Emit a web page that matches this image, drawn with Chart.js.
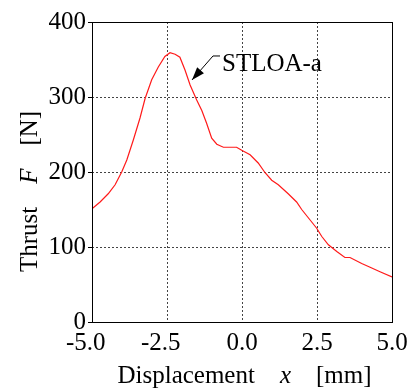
<!DOCTYPE html>
<html>
<head>
<meta charset="utf-8">
<script src="https://cdn.jsdelivr.net/npm/chart.js@4/dist/chart.umd.min.js"></script>
<style>
html,body{margin:0;padding:0;background:#fff;}
#wrap{width:414px;height:390px;}
</style>
</head>
<body>
<div id="wrap"><canvas id="c" width="414" height="390"></canvas></div>
<script>
// ---- data ----
const displacement = [-5.0,-4.73,-4.46,-4.23,-4.01,-3.84,-3.62,-3.40,-3.23,-3.01,-2.79,-2.57,-2.40,-2.23,-2.07,-1.90,-1.73,-1.51,-1.34,-1.18,-1.01,-0.84,-0.62,-0.40,-0.18,-0.01,0.27,0.54,0.77,0.99,1.21,1.54,1.82,1.99,2.27,2.49,2.66,2.88,3.16,3.43,3.60,3.99,4.27,4.60,5.0];
const thrust = [151,160,171,183,200,216,243,272,298,323,340,354,359,357,353,336,316,296,282,265,245,237,233,233,233,229,223,212,199,189,183,171,160,150,136,125,114,103,94,86,86,78,73,67,60];
const xTicks = [-5.0,-2.5,0.0,2.5,5.0];
const yTicks = [0,100,200,300,400];
const seriesLabel = "STLOA-a";
const xTitle = ["Displacement","x","[mm]"];
const yTitle = ["Thrust","F","[N]"];
// annotation anchors (data coordinates)
const labelAnchor = {x:-0.667, y:334.7};
const elbowA = {x:-0.733, y:354.7};
const elbowB = {x:-0.967, y:354.7};
const arrowTip = {x:-1.667, y:322.7};

const SERIF = '"Liberation Serif","Times New Roman",serif';
const FS = 25;

const overlay = {
  id:'overlay',
  afterDraw(chart){
    const ctx = chart.ctx, a = chart.chartArea;
    const xs = chart.scales.x, ys = chart.scales.y;
    ctx.save();
    // frame
    ctx.strokeStyle = '#000'; ctx.lineWidth = 1;
    ctx.strokeRect(Math.round(a.left)+0.5, Math.round(a.top)+0.5, Math.round(a.right-a.left), Math.round(a.bottom-a.top));
    ctx.fillStyle = '#000';
    ctx.textBaseline = 'alphabetic';
    ctx.textAlign = 'left';
    // x title
    const norm = FS+'px '+SERIF, ital = 'italic '+FS+'px '+SERIF;
    const gapX = 25;
    ctx.font = norm; const w1 = ctx.measureText(xTitle[0]).width, w3 = ctx.measureText(xTitle[2]).width;
    ctx.font = ital; const w2 = ctx.measureText(xTitle[1]).width;
    const tot = w1+w2+w3+2*gapX;
    let sx = 244.5 - tot/2, by = 383;
    ctx.font = norm; ctx.fillText(xTitle[0], sx, by);
    ctx.font = ital; ctx.fillText(xTitle[1], sx+w1+gapX, by);
    ctx.font = norm; ctx.fillText(xTitle[2], sx+w1+gapX+w2+gapX, by);
    // y title
    const gapY = 23;
    ctx.font = norm; const v1 = ctx.measureText(yTitle[0]).width, v3 = ctx.measureText(yTitle[2]).width;
    ctx.font = ital; const v2 = ctx.measureText(yTitle[1]).width;
    const totY = v1+v2+v3+2*gapY;
    ctx.save();
    ctx.translate(37, 191.5);
    ctx.rotate(-Math.PI/2);
    let s = -totY/2;
    ctx.font = norm; ctx.fillText(yTitle[0], s, 0);
    ctx.font = ital; ctx.fillText(yTitle[1], s+v1+gapY, 0);
    ctx.font = norm; ctx.fillText(yTitle[2], s+v1+gapY+v2+gapY, 0);
    ctx.restore();
    // annotation
    const tx = xs.getPixelForValue(arrowTip.x), ty = ys.getPixelForValue(arrowTip.y);
    const ex = xs.getPixelForValue(elbowB.x), ey = ys.getPixelForValue(elbowB.y);
    const fx = xs.getPixelForValue(elbowA.x), fy = ys.getPixelForValue(elbowA.y);
    ctx.strokeStyle = '#000'; ctx.lineWidth = 1;
    ctx.beginPath(); ctx.moveTo(fx, fy); ctx.lineTo(ex, ey); ctx.lineTo(tx, ty); ctx.stroke();
    const ang = Math.atan2(ty-ey, tx-ex), L = 13, W = 4.5;
    const bx = tx - L*Math.cos(ang), byy = ty - L*Math.sin(ang);
    ctx.beginPath();
    ctx.moveTo(tx, ty);
    ctx.lineTo(bx + W*Math.sin(ang), byy - W*Math.cos(ang));
    ctx.lineTo(bx - W*Math.sin(ang), byy + W*Math.cos(ang));
    ctx.closePath(); ctx.fill();
    ctx.font = norm;
    ctx.fillText(seriesLabel, xs.getPixelForValue(labelAnchor.x), ys.getPixelForValue(labelAnchor.y));
    ctx.restore();
  }
};

const edgeClear = (ticks) => (c) => (c.index === 0 || c.index === ticks.length-1) ? 'rgba(0,0,0,0)' : '#444';

new Chart(document.getElementById('c'), {
  type:'line',
  data:{ datasets:[{
    label: seriesLabel,
    data: displacement.map((x,i)=>({x, y: thrust[i]})),
    borderColor:'#ff1a1a', borderWidth:1.2, pointRadius:0, tension:0, fill:false
  }]},
  options:{
    responsive:false, animation:false,
    layout:{padding:{top:22,right:22,left:0,bottom:0}},
    plugins:{legend:{display:false}, tooltip:{enabled:false}},
    scales:{
      x:{
        type:'linear', min:-5, max:5,
        afterBuildTicks(scale){ scale.ticks = xTicks.map(v=>({value:v})); },
        afterFit(scale){ scale.height = 68; },
        ticks:{ autoSkip:false, maxRotation:0, padding:6, color:'#000',
          font:{family:SERIF, size:FS},
          callback:(v)=> v < 0 ? v.toFixed(1)+'\u2002' : v.toFixed(1) },
        grid:{ color: edgeClear(xTicks), lineWidth:1, drawTicks:false },
        border:{ display:false, dash:[2,2] }
      },
      y:{
        type:'linear', min:0, max:400,
        afterBuildTicks(scale){ scale.ticks = yTicks.map(v=>({value:v})); },
        afterFit(scale){ scale.width = 92; },
        ticks:{ padding:2, color:'#000', font:{family:SERIF, size:FS}, callback:(v)=>String(v) },
        grid:{ color: edgeClear(yTicks), lineWidth:1, drawTicks:true, tickLength:4, tickColor:'#000', tickBorderDash:[] },
        border:{ display:false, dash:[2,2] }
      }
    }
  },
  plugins:[overlay]
});
</script>
</body>
</html>
